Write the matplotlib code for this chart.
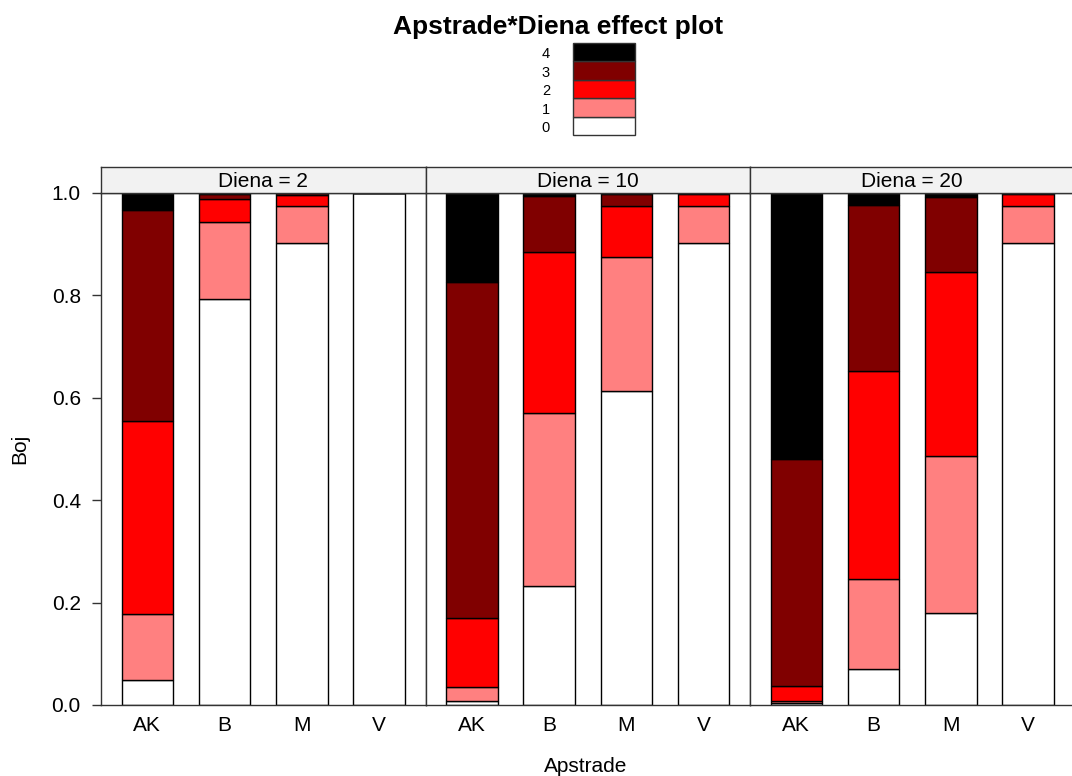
import matplotlib.pyplot as plt
import numpy as np

plt.rcParams["font.family"] = ["Liberation Sans", "DejaVu Sans"]

apstrade = ["AK", "B", "M", "V"]
diena = [2, 10, 20]
boj_levels = ["0", "1", "2", "3", "4"]
level_colors = ["#FFFFFF", "#FF8080", "#FF0000", "#800000", "#000000"]

# probabilities of Boj levels 0..4 for each Apstrade (rows), per Diena panel
probs_d2 = [
    [0.049, 0.129, 0.377, 0.412, 0.033],
    [0.793, 0.150, 0.045, 0.010, 0.002],
    [0.902, 0.073, 0.022, 0.003, 0.000],
    [1.000, 0.000, 0.000, 0.000, 0.000],
]
probs_d10 = [
    [0.008, 0.027, 0.135, 0.656, 0.174],
    [0.232, 0.338, 0.315, 0.110, 0.005],
    [0.613, 0.262, 0.100, 0.023, 0.002],
    [0.902, 0.073, 0.023, 0.002, 0.000],
]
probs_d20 = [
    [0.004, 0.003, 0.030, 0.443, 0.520],
    [0.070, 0.176, 0.406, 0.325, 0.023],
    [0.180, 0.306, 0.360, 0.146, 0.008],
    [0.902, 0.073, 0.023, 0.002, 0.000],
]
panels = [probs_d2, probs_d10, probs_d20]

W, H = 1072, 776
fig = plt.figure(figsize=(W / 100, H / 100), dpi=100)

frame_col = "#333333"
left0 = 101
pw = 324.5
top_px, bot_px = 193, 705
strip_top = 167
fs = 15

x = np.arange(1, len(apstrade) + 1)
for i, (d, probs) in enumerate(zip(diena, panels)):
    lx = left0 + i * pw
    ax = fig.add_axes([lx / W, 1 - bot_px / H, pw / W, (bot_px - top_px) / H])
    p = np.array(probs)
    bottom = np.zeros(len(apstrade))
    for k in range(len(boj_levels)):
        ax.bar(x, p[:, k], bottom=bottom, width=2 / 3, color=level_colors[k],
               edgecolor="black", linewidth=1.0)
        bottom += p[:, k]
    ax.set_xlim(0.4, len(apstrade) + 0.6)
    ax.set_ylim(0, 1)
    ax.set_xticks(x)
    ax.set_xticklabels(apstrade, fontsize=fs)
    ax.tick_params(axis="x", length=0, pad=8)
    if i == 0:
        ax.set_yticks([0, 0.2, 0.4, 0.6, 0.8, 1.0])
        ax.set_yticklabels(["0.0", "0.2", "0.4", "0.6", "0.8", "1.0"], fontsize=fs)
        ax.tick_params(axis="y", length=6.5, width=1, color=frame_col, pad=8)
    else:
        ax.set_yticks([])
    for s in ax.spines.values():
        s.set_color(frame_col)
        s.set_linewidth(1)

    # strip
    sax = fig.add_axes([lx / W, 1 - top_px / H, pw / W, (top_px - strip_top) / H])
    sax.set_facecolor("#F2F2F2")
    sax.set_xticks([])
    sax.set_yticks([])
    for s in sax.spines.values():
        s.set_color(frame_col)
        s.set_linewidth(1)
    sax.text(0.5, 0.45, f"Diena = {d}", ha="center", va="center", fontsize=fs,
             transform=sax.transAxes)

# legend key
lax = fig.add_axes([573 / W, 1 - 135 / H, 62 / W, 92 / H])
for k, lab in enumerate(boj_levels):
    bars = lax.bar(0, 1, bottom=k, width=1, color=level_colors[k],
                   edgecolor="#333333", linewidth=1)
    for b in bars:
        b.set_clip_on(False)
    lax.text(-0.87, k + 0.38, lab, ha="right", va="center", fontsize=10.5,
             clip_on=False)
lax.set_xlim(-0.5, 0.5)
lax.set_ylim(0, 5)
lax.axis("off")

fig.text(558 / W, 1 - 27 / H, "Apstrade*Diena effect plot", ha="center",
         va="center", fontsize=19, fontweight="bold")
fig.text(20 / W, 1 - 449 / H, "Boj", ha="center", va="center", rotation=90,
         fontsize=fs)
fig.text(586 / W, 1 - 766 / H, "Apstrade", ha="center", va="center", fontsize=fs)

fig.savefig("out.png", dpi=100)
